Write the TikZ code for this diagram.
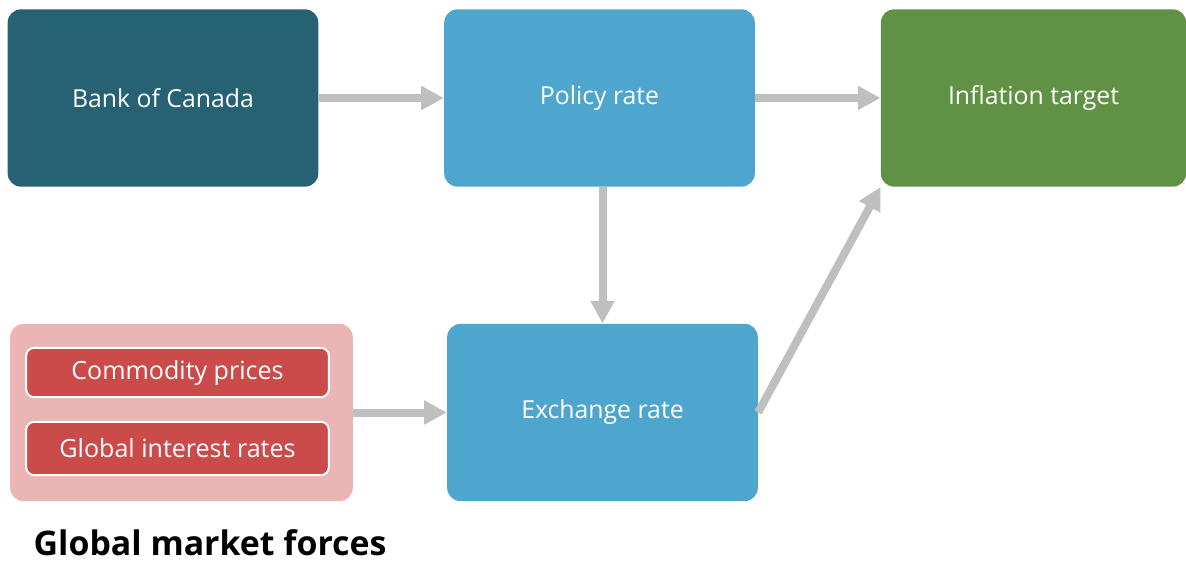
\documentclass[tikz,border=0pt]{standalone}
\usepackage{fontspec}
\setmainfont{Open Sans}
\usepackage{xcolor}
\usepackage{tikz}
\usetikzlibrary{arrows.meta}

\definecolor{bocteal}{HTML}{266273}
\definecolor{rateblue}{HTML}{4EA5CD}
\definecolor{targetgreen}{HTML}{619144}
\definecolor{forcepink}{HTML}{EBB5B5}
\definecolor{forcered}{HTML}{CB4A4A}
\definecolor{linkgray}{HTML}{BFBFBF}

\begin{document}
\begin{tikzpicture}[x=0.75pt,y=-0.75pt,
  box/.style={rounded corners=10pt,text=white,font=\fontsize{18.6}{22}\selectfont,
    minimum width=233pt,minimum height=133pt,inner sep=0pt},
  tag/.style={rounded corners=6pt,fill=forcered,draw=white,line width=1.5pt,
    text=white,font=\fontsize{18.8}{22}\selectfont,minimum width=227pt,inner sep=0pt},
  link/.style={draw=linkgray,line width=6pt,-{Triangle[length=17pt,width=17pt]}}]
\useasboundingbox (0,0) rectangle (1186,561);
% top row
\node[box,fill=bocteal] (bank) at (163,98) {Bank of Canada};
\node[box,fill=rateblue] (policy) at (599.5,98) {Policy rate};
\node[box,fill=targetgreen,minimum width=229pt] (target) at (1033.5,98) {Inflation target};
% bottom row
\node[box,fill=rateblue] (exchange) at (602.5,412.5) {Exchange rate};
\node[box,fill=forcepink,minimum width=257pt] (forces) at (181.5,412.5) {};
\node[tag,minimum height=37pt] (commodity) at (177.5,372.5) {Commodity prices};
\node[tag,minimum height=40pt] (interest) at (177.5,448.5) {Global interest rates};
\node[anchor=base west,font=\fontsize{25.4}{30}\selectfont\bfseries] (forceslabel) at (29,555) {Global market forces};
% links
\draw[link] (bank) -- (policy);
\draw[link] (policy) -- (target);
\draw[link] (exchange.north |- policy.south) -- (exchange.north);
\draw[link] (forces) -- (exchange);
\draw[link] (exchange.east) -- (target.south west);
\end{tikzpicture}
\end{document}
